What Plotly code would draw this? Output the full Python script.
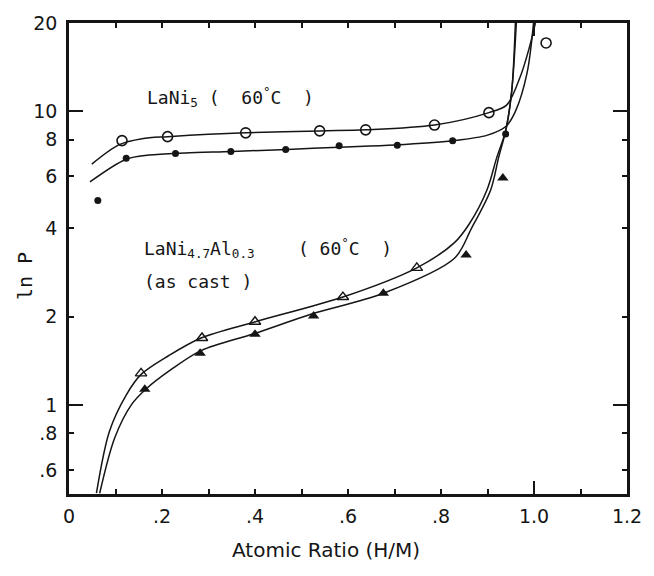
import numpy as np
import plotly.graph_objects as go

# ---- data ----
# LaNi5 (60 C) measured points
x_ni5_abs = [0.114, 0.212, 0.380, 0.539, 0.638, 0.786, 0.903, 1.026]
p_ni5_abs = [7.95, 8.20, 8.45, 8.58, 8.65, 8.98, 9.90, 17.1]
x_ni5_des = [0.062, 0.123, 0.229, 0.348, 0.466, 0.581, 0.706, 0.825, 0.939]
p_ni5_des = [4.97, 6.92, 7.19, 7.30, 7.41, 7.63, 7.66, 7.94, 8.38]

# LaNi4.7Al0.3 (60 C, as cast) measured points
x_al_abs = [0.155, 0.286, 0.400, 0.589, 0.748]
p_al_abs = [1.28, 1.69, 1.92, 2.33, 2.93]
x_al_des = [0.163, 0.282, 0.400, 0.526, 0.676, 0.854, 0.933]
p_al_des = [1.13, 1.50, 1.74, 2.01, 2.40, 3.24, 5.93]

# hand-drawn isotherm curves (traced)
cx_ni5_abs = [0.049, 0.108, 0.157, 0.212, 0.300, 0.380, 0.539, 0.638, 0.786, 0.903, 0.941, 0.971, 0.990, 1.003]
cp_ni5_abs = [6.61, 7.70, 8.07, 8.20, 8.35, 8.45, 8.58, 8.65, 8.98, 9.90, 10.5, 13.2, 16.5, 20.0]
cx_ni5_des = [0.045, 0.123, 0.172, 0.250, 0.350, 0.470, 0.580, 0.700, 0.825, 0.900, 0.940, 0.960, 0.985, 0.999]
cp_ni5_des = [5.75, 6.87, 7.10, 7.22, 7.30, 7.42, 7.55, 7.68, 7.94, 8.30, 8.90, 10.0, 13.5, 20.0]
cx_al_abs = [0.059, 0.087, 0.123, 0.155, 0.214, 0.284, 0.401, 0.589, 0.748, 0.829, 0.861, 0.899, 0.920, 0.939, 0.952, 0.960]
cp_al_abs = [0.50, 0.813, 1.08, 1.27, 1.47, 1.69, 1.92, 2.33, 2.93, 3.57, 4.14, 5.41, 6.97, 8.58, 11.7, 20.0]
cx_al_des = [0.066, 0.098, 0.134, 0.165, 0.220, 0.284, 0.399, 0.522, 0.676, 0.829, 0.865, 0.907, 0.924, 0.939, 0.952, 0.962]
cp_al_des = [0.50, 0.77, 1.00, 1.13, 1.32, 1.53, 1.75, 2.04, 2.40, 3.16, 3.98, 5.41, 6.97, 8.58, 11.7, 20.0]

# axis ticks
x_tickvals = [0, 0.1, 0.2, 0.3, 0.4, 0.5, 0.6, 0.7, 0.8, 0.9, 1.0, 1.1, 1.2]
x_ticktext = ["0", "", ".2", "", ".4", "", ".6", "", ".8", "", "1.0", "", "1.2"]
y_tickvals = [0.6, 0.8, 1, 2, 4, 6, 8, 10, 20]
y_ticktext = [".6", ".8", "1", "2", "4", "6", "8", "10", "20"]
x_long = [1.0]
y_long = [1, 10]

INK = "#151515"
fig = go.Figure()

def curve(x, y):
    fig.add_trace(go.Scatter(x=x, y=y, mode="lines",
                             line=dict(color=INK, width=1.5, shape="spline", smoothing=0.9),
                             hoverinfo="skip", showlegend=False))

curve(cx_ni5_abs, cp_ni5_abs)
curve(cx_ni5_des, cp_ni5_des)
curve(cx_al_abs, cp_al_abs)
curve(cx_al_des, cp_al_des)

def pts(x, y, sym, size, lw=1.5):
    fig.add_trace(go.Scatter(x=x, y=y, mode="markers",
                             marker=dict(symbol=sym, size=size, color=INK,
                                         line=dict(color=INK, width=lw)),
                             showlegend=False))

pts(x_ni5_abs, p_ni5_abs, "circle-open", 10, 1.6)
pts(x_ni5_des, p_ni5_des, "circle", 7, 0)
pts(x_al_abs, p_al_abs, "triangle-up-open", 10, 1.4)
pts(x_al_des, p_al_des, "triangle-up", 10, 0)

yr = [np.log10(0.497), np.log10(20)]
tickfont = dict(family="DejaVu Sans", size=19, color=INK)

fig.update_layout(
    width=654, height=576,
    margin=dict(l=69, r=19, t=13, b=82),
    paper_bgcolor="white", plot_bgcolor="white",
    xaxis=dict(range=[0, 1.2], tickvals=x_tickvals, ticktext=x_ticktext,
               ticks="inside", ticklen=5, tickwidth=1.5, tickcolor=INK,
               showline=True, linewidth=2.5, linecolor=INK, mirror="ticks",
               showgrid=False, zeroline=False, tickfont=tickfont,
               ticklabelstandoff=3),
    yaxis=dict(type="log", range=yr, tickvals=y_tickvals, ticktext=y_ticktext,
               ticks="inside", ticklen=5, tickwidth=1.5, tickcolor=INK,
               showline=True, linewidth=2.5, linecolor=INK, mirror="ticks",
               showgrid=False, zeroline=False, tickfont=tickfont,
               ticklabelstandoff=5),
    xaxis2=dict(overlaying="x", anchor="y", side="bottom", range=[0, 1.2],
                tickvals=x_long, ticks="inside", ticklen=13, tickwidth=1.5,
                tickcolor=INK, showticklabels=False, showgrid=False,
                zeroline=False, showline=False, mirror="ticks"),
    yaxis2=dict(overlaying="y", anchor="x", side="left", type="log", range=yr,
                tickvals=y_long, ticks="inside", ticklen=14, tickwidth=1.5,
                tickcolor=INK, showticklabels=False, showgrid=False,
                zeroline=False, showline=False, mirror="ticks"),
)

# dummy trace to activate the overlay axes
fig.add_trace(go.Scatter(x=[None], y=[None], xaxis="x2", yaxis="y2",
                         showlegend=False, hoverinfo="skip"))

lblfont = dict(family="DejaVu Sans Mono", size=18, color=INK)
fig.add_annotation(x=0.163, y=1.05, xref="x", yref="y", xanchor="left", yanchor="middle",
                   text="LaNi<sub>5</sub> (  60<sup>°</sup>C  )", showarrow=False, font=lblfont)
fig.add_annotation(x=0.157, y=0.535, xref="x", yref="y", xanchor="left", yanchor="middle",
                   text="LaNi<sub>4.7</sub>Al<sub>0.3</sub>    ( 60<sup>°</sup>C  )", showarrow=False, font=lblfont)
fig.add_annotation(x=0.157, y=0.42, xref="x", yref="y", xanchor="left", yanchor="middle",
                   text="(as cast )", showarrow=False, font=lblfont)

fig.add_annotation(x=0.461, y=-0.1185, xref="paper", yref="paper", xanchor="center", yanchor="middle",
                   text="Atomic Ratio (H/M)", showarrow=False,
                   font=dict(family="DejaVu Sans", size=20, color=INK))
fig.add_annotation(x=-0.08, y=0.4636, xref="paper", yref="paper", xanchor="center", yanchor="middle",
                   text="ln P", textangle=-90, showarrow=False,
                   font=dict(family="DejaVu Sans Mono", size=20, color=INK))

fig.write_html("out.html")
